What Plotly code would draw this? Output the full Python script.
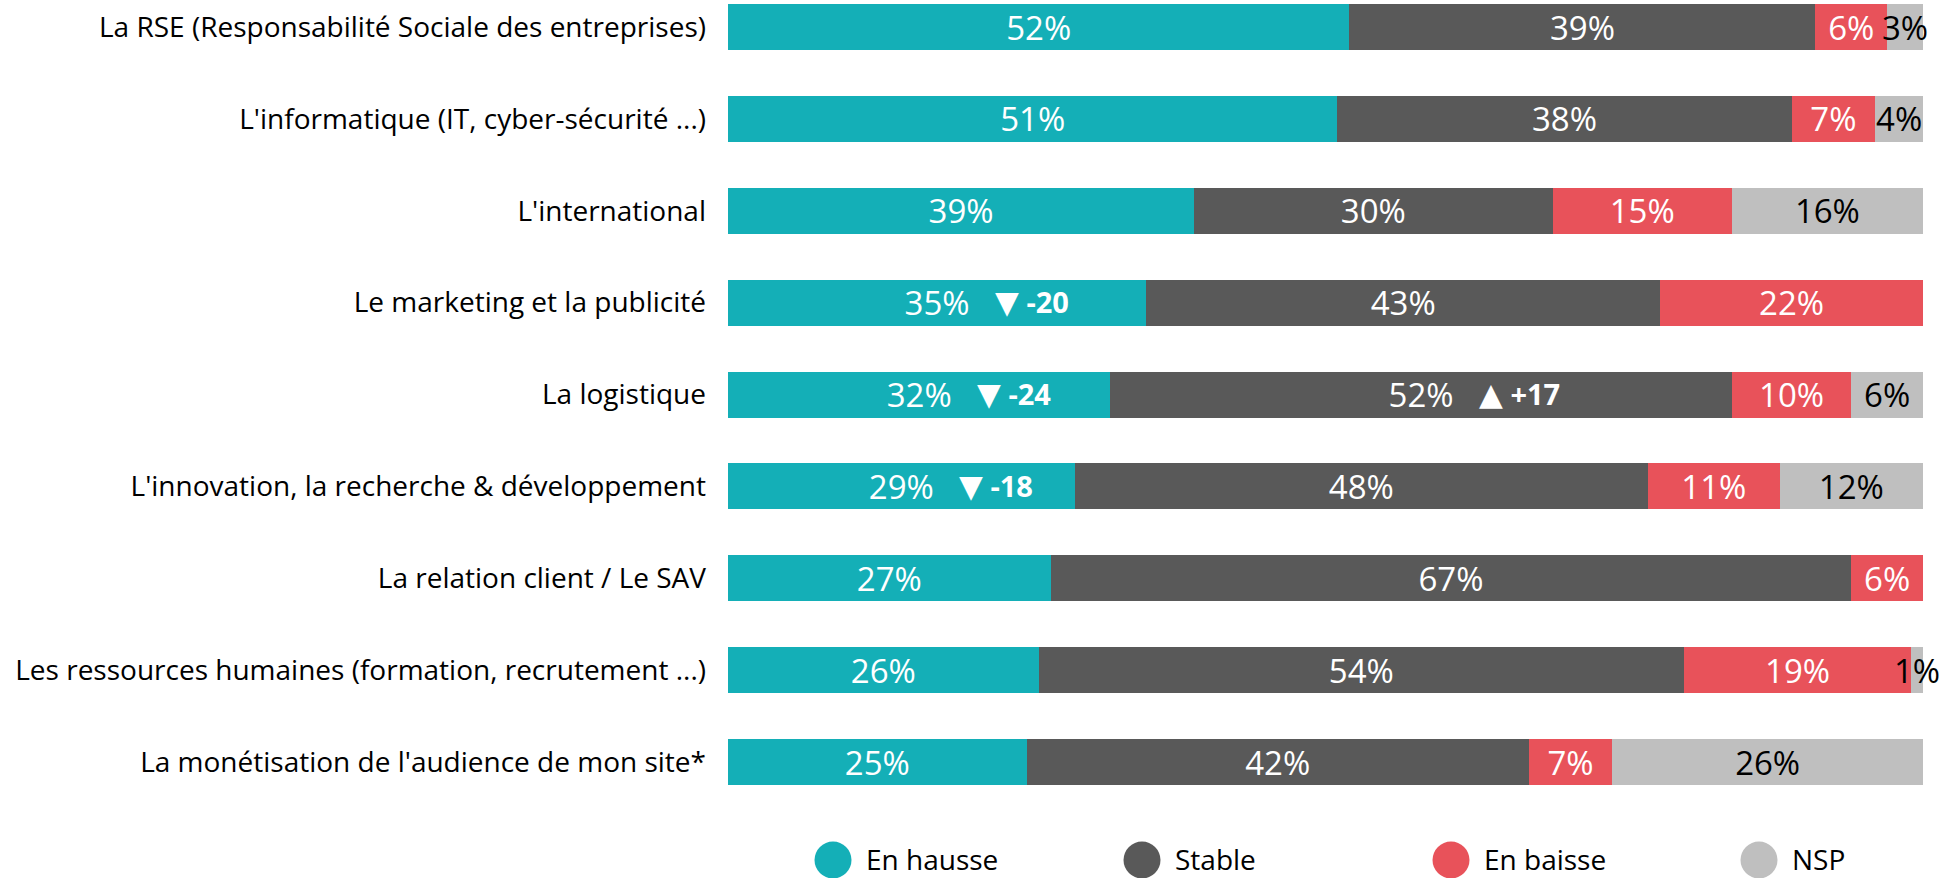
import plotly.graph_objects as go

categories = [
    "La RSE (Responsabilité Sociale des entreprises)",
    "L'informatique (IT, cyber-sécurité ...)",
    "L'international",
    "Le marketing et la publicité",
    "La logistique",
    "L'innovation, la recherche & développement",
    "La relation client / Le SAV",
    "Les ressources humaines (formation, recrutement ...)",
    "La monétisation de l'audience de mon site*",
]
en_hausse = [52, 51, 39, 35, 32, 29, 27, 26, 25]
stable = [39, 38, 30, 43, 52, 48, 67, 54, 42]
en_baisse = [6, 7, 15, 22, 10, 11, 6, 19, 7]
nsp = [3, 4, 16, 0, 6, 12, 0, 1, 26]

series_names = ["En hausse", "Stable", "En baisse", "NSP"]
series_values = [en_hausse, stable, en_baisse, nsp]
colors = ["#14AFB7", "#595959", "#E8525A", "#BFBFBF"]
text_colors = ["white", "white", "white", "black"]

# evolution notes: (category index, series index, delta)
notes = [(3, 0, -20), (4, 0, -24), (5, 0, -18), (4, 1, 17)]

FONT = "Open Sans"
LABEL_FS = 28
VALUE_FS = 33

W, H = 1954, 878
PL, PR, PT, PB = 728, 1923, 0, 800  # plot area in pixels

fig = go.Figure()
for name, vals, col, tcol in zip(series_names, series_values, colors, text_colors):
    fig.add_trace(go.Bar(
        y=categories, x=vals, name=name, orientation="h",
        marker=dict(color=col, line=dict(width=0)),
        text=[f"{v}%" if v > 0 else "" for v in vals],
        textposition="inside", insidetextanchor="middle", textangle=0,
        textfont=dict(color=tcol, size=VALUE_FS, family=FONT),
        cliponaxis=False, showlegend=False, hoverinfo="skip",
    ))

for ci, si, d in notes:
    start = sum(series_values[k][ci] for k in range(si))
    center = start + series_values[si][ci] / 2
    arrow = "▲" if d > 0 else "▼"
    sign = "+" if d > 0 else ""
    fig.add_annotation(
        x=center, y=categories[ci], xref="x", yref="y",
        text=(f"<span style='font-family:DejaVu Sans;font-size:31px'>{arrow}</span>"
              f"&nbsp;<b>{sign}{d}</b>"),
        showarrow=False, xanchor="left", xshift=56, yshift=1,
        font=dict(color="white", size=29, family=FONT),
    )

# legend drawn as circles + labels
legend_x = [833, 1142, 1451, 1759]
legend_y = 860
for name, col, lx in zip(series_names, colors, legend_x):
    px = (lx - PL) / (PR - PL)
    py = -(legend_y - PB) / (PB - PT)
    fig.add_shape(type="circle", xref="paper", yref="paper",
                  xsizemode="pixel", ysizemode="pixel",
                  xanchor=px, yanchor=py,
                  x0=-18.5, x1=18.5, y0=-18.5, y1=18.5,
                  fillcolor=col, line=dict(width=0))
    fig.add_annotation(x=px, y=py, xref="paper", yref="paper", text=name,
                       showarrow=False, xanchor="left", yanchor="middle",
                       xshift=31, yshift=1,
                       font=dict(color="black", size=28, family=FONT))

fig.update_layout(
    barmode="stack", bargap=0.5,
    width=W, height=H,
    margin=dict(l=PL, r=W - PR, t=PT, b=H - PB, autoexpand=False),
    plot_bgcolor="white", paper_bgcolor="white",
    font=dict(family=FONT, size=LABEL_FS, color="black"),
    xaxis=dict(range=[0, 100], visible=False),
    yaxis=dict(categoryorder="array", categoryarray=categories,
               range=[8.413, -0.294], showgrid=False, zeroline=False,
               showline=False, ticks="", ticklabelstandoff=21,
               tickfont=dict(size=LABEL_FS, family=FONT, color="black")),
    uniformtext=dict(mode="show", minsize=VALUE_FS),
)

fig.write_html("out.html",
               config={"displayModeBar": False},
               post_script="document.body.style.margin='0';document.body.style.overflow='hidden';")
